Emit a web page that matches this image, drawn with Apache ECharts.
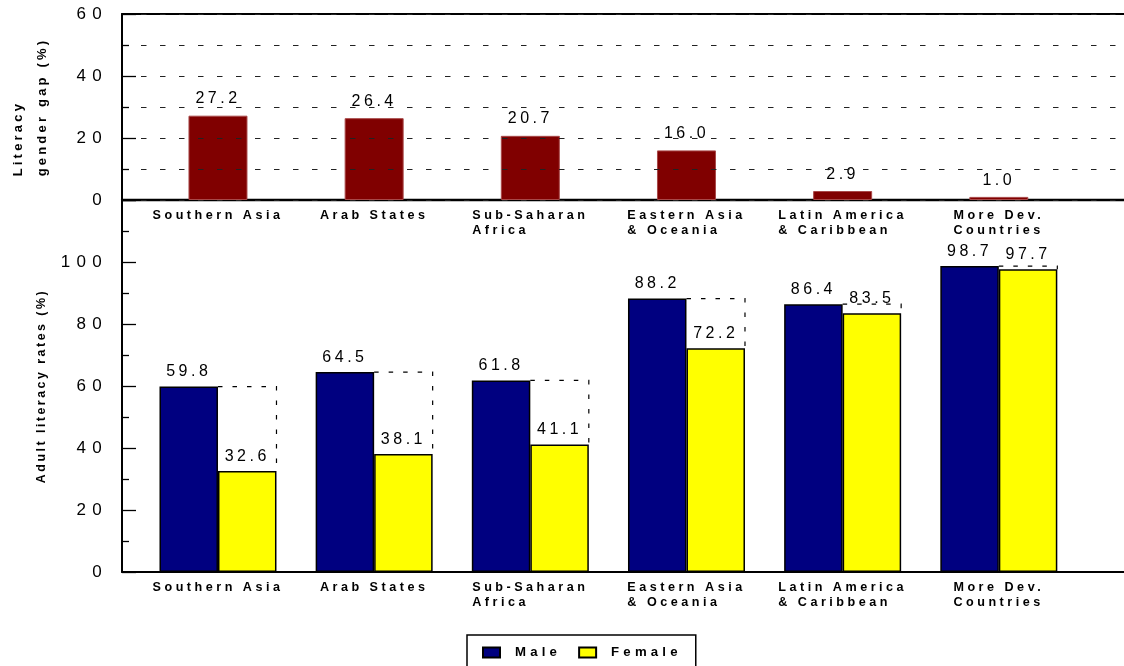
<!DOCTYPE html>
<html>
<head>
<meta charset="utf-8">
<script src="https://cdn.jsdelivr.net/npm/echarts@6/dist/echarts.min.js"></script>
<style>
html,body{margin:0;padding:0;background:#fff;}
#chart{width:1124px;height:666px;}
</style>
</head>
<body>
<div id="chart"></div>
<script>
// ---- data ----
var categories = ['Southern Asia', 'Arab States', 'Sub-Saharan\nAfrica', 'Eastern Asia\n& Oceania', 'Latin America\n& Caribbean', 'More Dev.\nCountries'];
var genderGap = [27.2, 26.4, 20.7, 16.0, 2.9, 1.0];
var maleRates = [59.8, 64.5, 61.8, 88.2, 86.4, 98.7];
var femaleRates = [32.6, 38.1, 41.1, 72.2, 83.5, 97.7];
var gapTicks = [0, 20, 40, 60];
var rateTicks = [0, 20, 40, 60, 80, 100];

// ---- letter spacing emulation (keyed by font weight + size) ----
var SPACING = { 'n17': 6.3, 'n16': 3.5, 'b12.6': 3.5, 'b13.2': 4.2, 'b13': 3.2, 'b12.4': 2.5 };
(function () {
  var proto = CanvasRenderingContext2D.prototype;
  var desc = Object.getOwnPropertyDescriptor(proto, 'font');
  if (!desc || !('letterSpacing' in proto)) return;
  Object.defineProperty(proto, 'font', {
    configurable: true,
    get: function () { return desc.get.call(this); },
    set: function (v) {
      desc.set.call(this, v);
      var m = /([\d.]+)px/.exec(v);
      var b = /bold|[6-9]00/.test(v) ? 'b' : 'n';
      var s = m ? SPACING[b + m[1]] : 0;
      this.letterSpacing = (s || 0) + 'px';
    }
  });
})();

var FONT = 'Liberation Sans, Arial, sans-serif';
var BAR_W = 58.5;

function catRich(v) {
  return v.split('\n').map(function (l) { return '{a|' + l + '}'; }).join('\n');
}
var catLabel = {
  show: true, interval: 0, margin: 8, color: '#000',
  formatter: catRich,
  rich: { a: { align: 'left', fontFamily: FONT, fontWeight: 'bold', fontSize: 12.6, lineHeight: 15, color: '#000' } }
};
var tickLabel = function (ticks) {
  return {
    show: true, color: '#000', fontFamily: FONT, fontSize: 17, margin: 14,
    formatter: function (v) { return ticks.indexOf(v) >= 0 ? String(v) : ''; }
  };
};
var dashed = { show: true, lineStyle: { color: '#222', width: 1, type: [5.5, 13.5] } };

var option = {
  backgroundColor: '#fff',
  animation: false,
  grid: [
    { left: 122, top: 14, right: 0, height: 186 },
    { left: 139.9, top: 14, width: 937, height: 186 },
    { left: 122, top: 200, right: 0, height: 372 },
    { left: 139.9, top: 200, width: 937, height: 372 }
  ],
  legend: {
    data: ['Male', 'Female'],
    left: 467, top: 635,
    itemWidth: 17, itemHeight: 10, itemGap: 17,
    borderColor: '#000', borderWidth: 1.5,
    padding: [9, 14, 20, 15],
    icon: 'rect',
    textStyle: { fontFamily: FONT, fontWeight: 'bold', fontSize: 13.2, color: '#000', padding: [0, 0, 0, 10] }
  },
  xAxis: [
    { gridIndex: 0, type: 'category', data: categories, position: 'bottom',
      axisLine: { show: true, lineStyle: { color: '#000', width: 2.3 } },
      axisTick: { show: false }, axisLabel: { show: false }, splitLine: { show: false } },
    { gridIndex: 0, type: 'category', data: categories, position: 'top',
      axisLine: { show: true, lineStyle: { color: '#000', width: 2 } },
      axisTick: { show: false }, axisLabel: { show: false }, splitLine: { show: false } },
    { gridIndex: 1, type: 'category', data: categories,
      axisLine: { show: false }, axisTick: { show: false }, axisLabel: catLabel },
    { gridIndex: 2, type: 'category', data: categories, position: 'bottom',
      axisLine: { show: true, lineStyle: { color: '#000', width: 1.8 } },
      axisTick: { show: false }, axisLabel: { show: false } },
    { gridIndex: 3, type: 'category', data: categories,
      axisLine: { show: false }, axisTick: { show: false }, axisLabel: catLabel }
  ],
  yAxis: [
    { gridIndex: 0, type: 'value', min: 0, max: 60, interval: 20, z: 5,
      axisLine: { show: true, lineStyle: { color: '#000', width: 2 } },
      axisTick: { show: true, inside: true, length: 14, lineStyle: { color: '#000', width: 1.3 } },
      minorTick: { show: true, splitNumber: 2, length: 7, lineStyle: { color: '#000', width: 1.3 } },
      splitLine: dashed, minorSplitLine: dashed,
      axisLabel: tickLabel(gapTicks),
      name: '{a|Literacy}\n{a|gender gap (%)}',
      nameLocation: 'middle', nameGap: 68, nameRotate: 90,
      nameTextStyle: { rich: { a: { align: 'left', fontFamily: FONT, fontWeight: 'bold', fontSize: 13, lineHeight: 24, color: '#000' } } }
    },
    { gridIndex: 1, type: 'value', min: 0, max: 60, show: false },
    { gridIndex: 2, type: 'value', min: 0, max: 120, interval: 20,
      axisLine: { show: true, lineStyle: { color: '#000', width: 2 } },
      axisTick: { show: true, inside: true, length: 14, lineStyle: { color: '#000', width: 1.3 } },
      minorTick: { show: true, splitNumber: 2, length: 7, lineStyle: { color: '#000', width: 1.3 } },
      splitLine: { show: false },
      axisLabel: tickLabel(rateTicks),
      name: 'Adult literacy rates (%)',
      nameLocation: 'middle', nameGap: 73, nameRotate: 90,
      nameTextStyle: { fontFamily: FONT, fontWeight: 'bold', fontSize: 12.4, color: '#000' }
    },
    { gridIndex: 3, type: 'value', min: 0, max: 120, show: false }
  ],
  series: [
    { name: 'Literacy gender gap', type: 'bar', xAxisIndex: 2, yAxisIndex: 1,
      data: genderGap, barWidth: 59,
      itemStyle: { color: '#800000', borderColor: '#a84848', borderWidth: 1 },
      label: { show: true, position: 'top', distance: 7, color: '#000', fontFamily: FONT, fontSize: 16,
        formatter: function (p) { return p.value.toFixed(1); } } },
    { name: 'Male', type: 'bar', xAxisIndex: 4, yAxisIndex: 3,
      data: maleRates, barWidth: BAR_W, barGap: '0%',
      itemStyle: { color: '#000080', borderColor: '#000', borderWidth: 1.5 },
      label: { show: true, position: 'top', distance: 5, color: '#000', fontFamily: FONT, fontSize: 16,
        formatter: function (p) { return p.value.toFixed(1); } } },
    { name: 'Female', type: 'bar', xAxisIndex: 4, yAxisIndex: 3,
      data: femaleRates, barWidth: BAR_W, barGap: '0%',
      itemStyle: { color: '#ffff00', borderColor: '#000', borderWidth: 1.5 },
      label: { show: true, position: 'top', distance: 5, color: '#000', fontFamily: FONT, fontSize: 16,
        formatter: function (p) { return p.value.toFixed(1); } } },
    { name: 'gapOutline', type: 'custom', xAxisIndex: 4, yAxisIndex: 3, z: 1, silent: true,
      data: categories.map(function (c, i) { return [i, maleRates[i], femaleRates[i]]; }),
      renderItem: function (params, api) {
        var m = api.coord([api.value(0), api.value(1)]);
        var f = api.coord([api.value(0), api.value(2)]);
        var x0 = m[0], x1 = m[0] + BAR_W;
        return {
          type: 'polyline',
          shape: { points: [[x0, m[1]], [x1, m[1]], [x1, f[1]]] },
          style: { fill: null, stroke: '#000', lineWidth: 1.2, lineDash: [4.5, 10] }
        };
      }
    }
  ]
};

var chart = echarts.init(document.getElementById('chart'), null, { renderer: 'canvas' });
chart.setOption(option);
</script>
</body>
</html>
